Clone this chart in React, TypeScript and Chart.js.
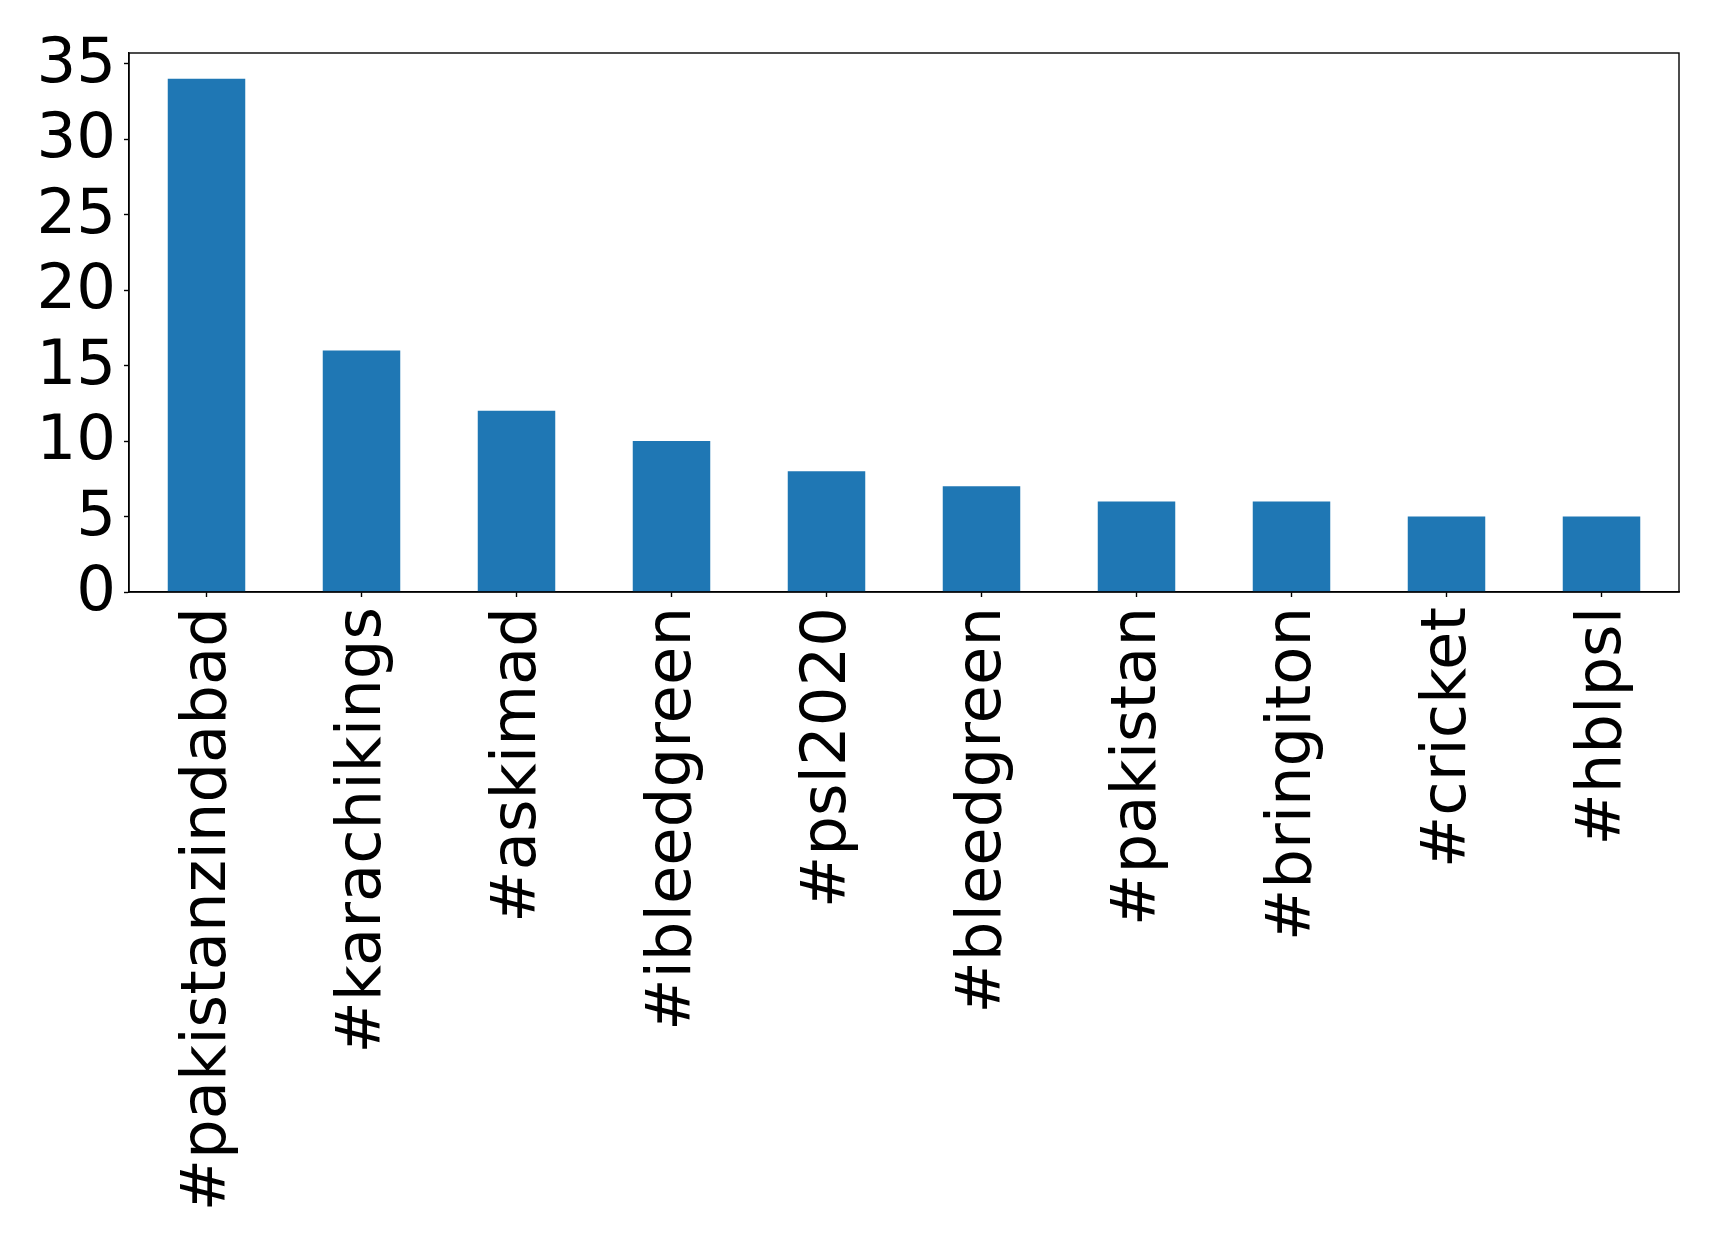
import React, { useEffect, useRef } from "react";
import { Chart, registerables } from "chart.js";

Chart.register(...registerables);

const categories = [
  "#pakistanzindabad",
  "#karachikings",
  "#askimad",
  "#ibleedgreen",
  "#psl2020",
  "#bleedgreen",
  "#pakistan",
  "#bringiton",
  "#cricket",
  "#hblpsl",
];
const counts = [34, 16, 12, 10, 8, 7, 6, 6, 5, 5];
const yTicks = [0, 5, 10, 15, 20, 25, 30, 35];
const yMax = 35.7;

const W = 1719;
const H = 1245;
const FONT = "'DejaVu Sans', sans-serif";
const FONT_SIZE = 62.5;

export default function App() {
  const ref = useRef<HTMLCanvasElement | null>(null);

  useEffect(() => {
    if (!ref.current) return;
    const framePlugin = {
      id: "frame",
      afterDraw(chart: any) {
        const { ctx, chartArea } = chart;
        ctx.save();
        ctx.strokeStyle = "#000";
        ctx.lineWidth = 1.4;
        ctx.strokeRect(chartArea.left, chartArea.top, chartArea.right - chartArea.left, chartArea.bottom - chartArea.top);
        ctx.restore();
      },
    };
    const chart = new Chart(ref.current, {
      type: "bar",
      data: {
        labels: categories,
        datasets: [
          {
            data: counts,
            backgroundColor: "#1f77b4",
            borderWidth: 0,
            barPercentage: 0.5,
            categoryPercentage: 1.0,
          },
        ],
      },
      options: {
        responsive: false,
        devicePixelRatio: 1,
        animation: false,
        layout: { padding: { top: 53, right: 40, left: 0, bottom: 0 } },
        plugins: {
          legend: { display: false },
          tooltip: { enabled: false },
        },
        scales: {
          x: {
            type: "category",
            offset: true,
            grid: {
              offset: false,
              drawOnChartArea: false,
              drawTicks: true,
              tickLength: 5,
              tickColor: "#000",
              tickWidth: 1.4,
            },
            border: { display: true, color: "#000", width: 1.4 },
            ticks: {
              color: "#000",
              font: { family: FONT, size: FONT_SIZE },
              minRotation: 90,
              maxRotation: 90,
              autoSkip: false,
              padding: 10,
              labelOffset: 2,
            },
            afterFit(scale: any) {
              scale.height = H - 592;
            },
          },
          y: {
            min: 0,
            max: yMax,
            grid: {
              drawOnChartArea: false,
              drawTicks: true,
              tickLength: 5,
              tickColor: "#000",
              tickWidth: 1.4,
            },
            border: { display: true, color: "#000", width: 1.4 },
            ticks: {
              color: "#000",
              font: { family: FONT, size: FONT_SIZE },
              padding: 8,
              labelOffset: 2,
              autoSkip: false,
            },
            afterBuildTicks(scale: any) {
              scale.ticks = yTicks.map((v) => ({ value: v }));
            },
            afterFit(scale: any) {
              scale.width = 129;
            },
          },
        },
      },
      plugins: [framePlugin],
    } as any);
    return () => chart.destroy();
  }, []);

  return (
    <div style={{ position: "absolute", left: 0, top: 0, width: W, height: H, background: "#fff" }}>
      <canvas ref={ref} width={W} height={H} style={{ width: W, height: H, display: "block" }} />
    </div>
  );
}
